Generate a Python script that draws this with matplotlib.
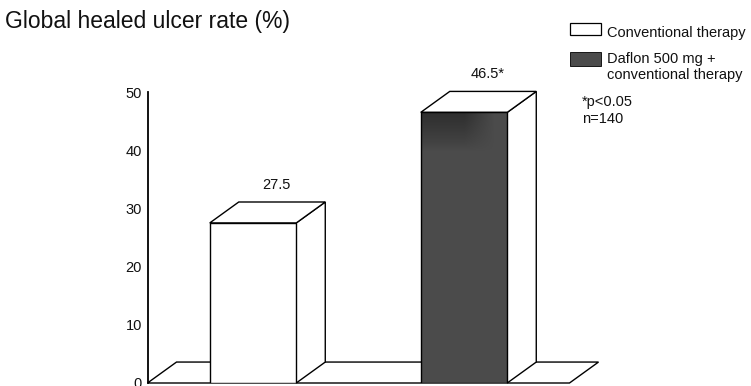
import matplotlib
matplotlib.use("Agg")
import matplotlib.pyplot as plt
from matplotlib.patches import Polygon, Rectangle
import numpy as np

plt.rcParams['font.family'] = ['Liberation Sans', 'DejaVu Sans']

# --- data ---
groups = ["Conventional therapy", "Daflon 500 mg +\nconventional therapy"]
rates = [27.5, 46.5]
significant = [False, True]
face_colors = ["white", "#4b4b4b"]
yticks = [0, 10, 20, 30, 40, 50]
title = "Global healed ulcer rate (%)"
notes = ["*p<0.05", "n=140"]

W, H = 751, 386
fig = plt.figure(figsize=(W / 100, H / 100), dpi=100)


def fx(px):
    return px / W


def fy(py):
    return 1 - py / H


ax = fig.add_axes([fx(147.5), 3 / H, 422 / W, 291 / H])
ax.set_xlim(-0.5, 1.5)
ax.set_ylim(0, 50)

# oblique depth of the pseudo-3D boxes (x in category units, y in %)
DX, DY = 0.1375, 3.6
BAR_W = 0.41
LW = 1.0

x = np.arange(len(rates))
x0, x1 = ax.get_xlim()

# floor slab
ax.add_patch(Polygon([(x0, 0), (x1, 0), (x1 + DX, DY), (x0 + DX, DY)],
                     closed=True, facecolor="white", edgecolor="black",
                     lw=LW, clip_on=False, zorder=1))

for xi, v, fc, sig in zip(x, rates, face_colors, significant):
    l, r = xi - BAR_W / 2, xi + BAR_W / 2
    ax.add_patch(Polygon([(r, 0), (r + DX, DY), (r + DX, v + DY), (r, v)],
                         closed=True, facecolor="white", edgecolor="black",
                         lw=LW, clip_on=False, zorder=2))
    ax.add_patch(Polygon([(l, v), (r, v), (r + DX, v + DY), (l + DX, v + DY)],
                         closed=True, facecolor="white", edgecolor="black",
                         lw=LW, clip_on=False, zorder=2))
    label = f"{v:.1f}" + ("*" if sig else "")
    ax.text(xi + 0.11, v + DY + 1.8, label, ha="center", va="bottom",
            fontsize=10.5, color="#111111")

bars = ax.bar(x, rates, width=BAR_W, color=face_colors, edgecolor="black",
              linewidth=LW, zorder=3)

# darker, softly fading patch at the top-left of the shaded box
b = bars[1]
gy = np.linspace(0, 1, 120).reshape(-1, 1)
gx = np.linspace(0, 1, 80).reshape(1, -1)
vert = np.clip(1 - gy / 0.14, 0, 1) ** 0.8
horz = np.clip((0.85 - gx) / 0.35, 0, 1)
img = np.zeros((120, 80, 4))
img[..., 3] = 0.38 * vert * horz
ax.imshow(img, extent=(b.get_x(), b.get_x() + b.get_width(),
                       0, b.get_height()),
          origin="upper", aspect="auto", zorder=3.5, clip_on=False,
          interpolation="bilinear")
ax.set_xlim(x0, x1)
ax.set_ylim(0, 50)

for s in ["top", "right", "bottom"]:
    ax.spines[s].set_visible(False)
ax.spines["left"].set_linewidth(1.3)
ax.spines["left"].set_zorder(4)
ax.set_xticks([])
ax.set_yticks(yticks)
ax.tick_params(axis="y", length=0, pad=4, labelsize=10.5, labelcolor="#111111")

# title
fig.text(fx(5), fy(28), title, fontsize=16.5, va="baseline", ha="left",
         color="#111111")

# legend
sw_w = 31
fig.patches.append(Rectangle((fx(570), fy(35)), sw_w / W, 12 / H,
                             transform=fig.transFigure, facecolor=face_colors[0],
                             edgecolor="black", lw=0.9))
fig.patches.append(Rectangle((fx(570), fy(66)), sw_w / W, 14 / H,
                             transform=fig.transFigure, facecolor=face_colors[1],
                             edgecolor="black", lw=0.6))
legend_rows = [(groups[0], 37)]
for k, line in enumerate(groups[1].split("\n")):
    legend_rows.append((line, 63 + 16.5 * k))
for txt, base in legend_rows:
    fig.text(fx(607), fy(base), txt, fontsize=10.5, va="baseline",
             color="#111111")
for k, note in enumerate(notes):
    fig.text(fx(582), fy(106 + 17 * k), note, fontsize=10.5, va="baseline",
             color="#111111")

fig.savefig("out.png", dpi=100)
